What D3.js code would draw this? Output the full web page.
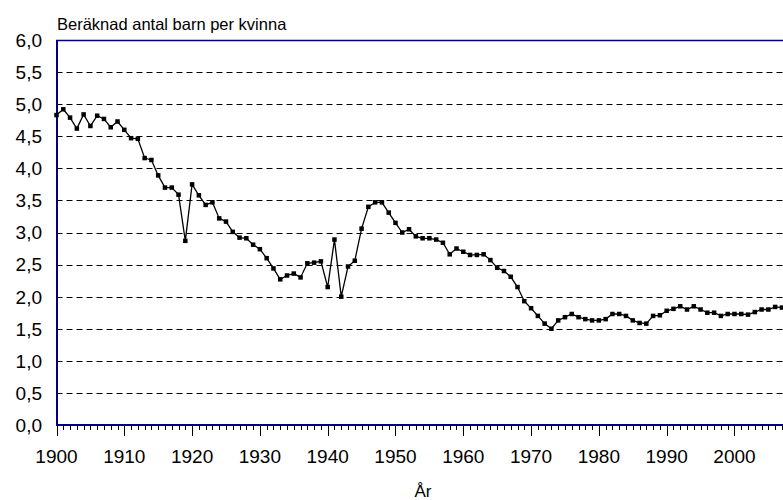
<!DOCTYPE html>
<html>
<head>
<meta charset="utf-8">
<script src="https://cdn.jsdelivr.net/npm/d3@7"></script>
<style>
  html, body { margin: 0; padding: 0; background: #fff; }
  svg { display: block; }
  text { font-family: "Liberation Sans", Arial, sans-serif; fill: #000; }
</style>
</head>
<body>
<svg id="chart" width="783" height="500"></svg>
<script>
// Years 1900..2007
const startYear = 1900;
const fertility = [
  4.83, 4.92, 4.79, 4.62, 4.84, 4.66, 4.82, 4.77, 4.64, 4.73,   // 1900-1909
  4.60, 4.47, 4.46, 4.16, 4.13, 3.89, 3.70, 3.70, 3.59, 2.87,   // 1910-1919
  3.75, 3.58, 3.43, 3.47, 3.22, 3.17, 3.01, 2.92, 2.91, 2.81,   // 1920-1929
  2.74, 2.60, 2.44, 2.27, 2.33, 2.36, 2.30, 2.52, 2.53, 2.55,   // 1930-1939
  2.15, 2.89, 2.00, 2.47, 2.56, 3.06, 3.40, 3.47, 3.47, 3.31,   // 1940-1949
  3.15, 3.00, 3.05, 2.94, 2.91, 2.91, 2.89, 2.84, 2.66, 2.75,   // 1950-1959
  2.70, 2.65, 2.65, 2.66, 2.57, 2.45, 2.40, 2.31, 2.15, 1.93,   // 1960-1969
  1.82, 1.70, 1.58, 1.50, 1.63, 1.68, 1.73, 1.68, 1.65, 1.63,   // 1970-1979
  1.63, 1.65, 1.73, 1.73, 1.70, 1.63, 1.59, 1.58, 1.70, 1.71,   // 1980-1989
  1.78, 1.81, 1.85, 1.80, 1.85, 1.80, 1.75, 1.75, 1.70, 1.73,   // 1990-1999
  1.73, 1.73, 1.72, 1.76, 1.80, 1.80, 1.84, 1.83                // 2000-2007
];
const years = fertility.map((_, i) => startYear + i);
const yTicks = [0, 0.5, 1.0, 1.5, 2.0, 2.5, 3.0, 3.5, 4.0, 4.5, 5.0, 5.5, 6.0];
const xMajorTicks = [1900, 1910, 1920, 1930, 1940, 1950, 1960, 1970, 1980, 1990, 2000];
const titleText = "Beräknad antal barn per kvinna";
const xAxisTitle = "År";

const svg = d3.select("#chart");
const x = d3.scaleLinear().domain([1900, 2008]).range([56.5, 788.7]);
const y = d3.scaleLinear().domain([0, 6]).range([425, 40]);
const navy = "#000080";
const fmt = v => v.toFixed(1).replace(".", ",");

// grid lines (dashed)
svg.append("g").selectAll("line")
  .data(yTicks.filter(v => v > 0 && v < 6))
  .join("line")
  .attr("x1", x(1900)).attr("x2", 783)
  .attr("y1", d => Math.round(y(d)) + 0.5).attr("y2", d => Math.round(y(d)) + 0.5)
  .attr("stroke", "#000").attr("stroke-width", 1)
  .attr("stroke-dasharray", "6,4");

// y labels
svg.append("g").selectAll("text")
  .data(yTicks)
  .join("text")
  .attr("x", 42).attr("y", d => y(d))
  .attr("dy", "0.36em")
  .attr("text-anchor", "end")
  .style("font-size", "19px")
  .text(fmt);

// x axis ticks: minor every year, major every 10
const allYears = d3.range(1900, 2009);
svg.append("g").selectAll("line")
  .data(allYears)
  .join("line")
  .attr("x1", d => Math.round(x(d)) + 0.5).attr("x2", d => Math.round(x(d)) + 0.5)
  .attr("y1", 425).attr("y2", d => d % 10 === 0 ? 436 : 430)
  .attr("stroke", "#000").attr("stroke-width", 1);

svg.append("g").selectAll("text")
  .data(xMajorTicks)
  .join("text")
  .attr("x", d => x(d)).attr("y", 463)
  .attr("text-anchor", "middle")
  .style("font-size", "19px")
  .text(d => d);

// frame (navy)
svg.append("line").attr("x1", 57).attr("x2", 57).attr("y1", 40).attr("y2", 425.5)
  .attr("stroke", navy).attr("stroke-width", 2);
svg.append("line").attr("x1", 56).attr("x2", 783).attr("y1", 425).attr("y2", 425)
  .attr("stroke", navy).attr("stroke-width", 2);
svg.append("line").attr("x1", 56).attr("x2", 783).attr("y1", 40.5).attr("y2", 40.5)
  .attr("stroke", navy).attr("stroke-width", 1.5);

// data line
const line = d3.line().x((d, i) => x(years[i])).y(d => y(d));
svg.append("path")
  .datum(fertility)
  .attr("d", line)
  .attr("fill", "none")
  .attr("stroke", "#000")
  .attr("stroke-width", 1.3);

// markers
svg.append("g").selectAll("rect")
  .data(fertility)
  .join("rect")
  .attr("x", (d, i) => x(years[i]) - 2.25)
  .attr("y", d => y(d) - 2.25)
  .attr("width", 4.5).attr("height", 4.5)
  .attr("fill", "#000");

// titles
svg.append("text").attr("x", 57).attr("y", 30)
  .style("font-size", "16.5px")
  .text(titleText);
svg.append("text").attr("x", 423).attr("y", 497)
  .attr("text-anchor", "middle")
  .style("font-size", "17px")
  .text(xAxisTitle);
</script>
</body>
</html>
